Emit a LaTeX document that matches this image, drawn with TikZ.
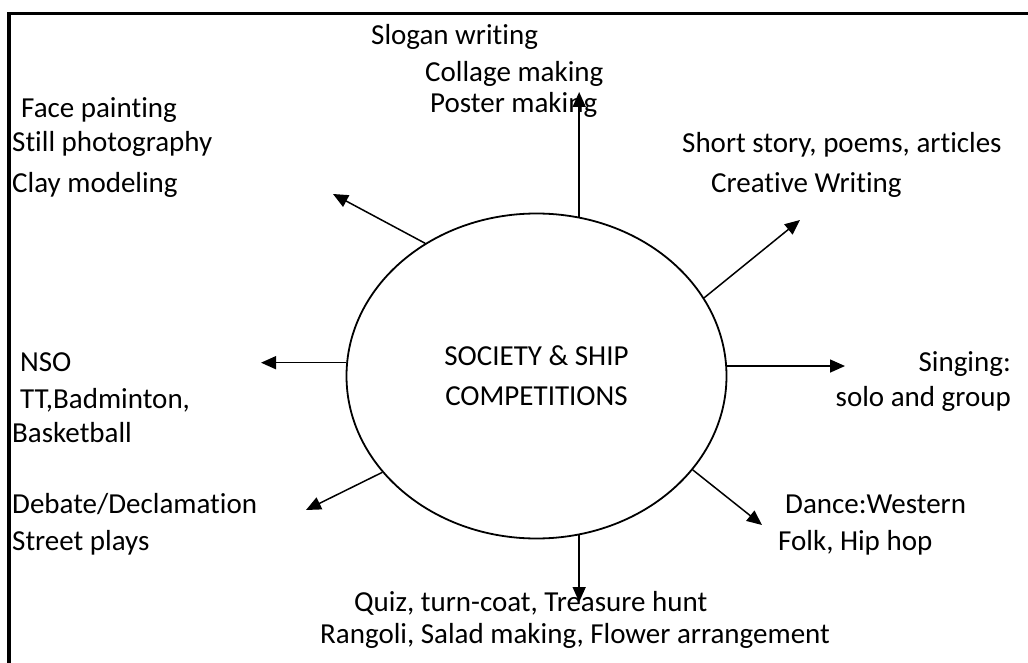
\documentclass[tikz,border=0pt]{standalone}
\usepackage{fontspec}
\setmainfont{Carlito}[Ligatures=NoCommon]
\usetikzlibrary{shapes.geometric,arrows.meta}
\tikzset{
  txt/.style={inner sep=0pt,font=\fontsize{29}{36}\selectfont},
  arr/.style={line width=1.5pt,-{Triangle[length=15pt,width=13pt]}}
}
\begin{document}
\begin{tikzpicture}[x=1pt,y=-1pt]
        \useasboundingbox (0,0) rectangle (1028,663);
        \draw[line width=3.5pt] (9,663) -- (9,13.5) -- (1028,13.5);
        % centre
        \node[ellipse,draw,line width=1.8pt,minimum width=380pt,minimum height=325pt,inner sep=0pt,
              align=center,font=\fontsize{29}{40}\selectfont] (soc) at (536.5,376)
              {SOCIETY \& SHIP\\COMPETITIONS};
        % end points of the arrows
        \coordinate (tup) at (579,92);
        \coordinate (tul) at (333,194);
        \coordinate (tur) at (800,220);
        \coordinate (tl) at (261,365);
        \coordinate (tr) at (845,365);
        \coordinate (tll) at (306,510);
        \coordinate (tlr) at (762,525);
        \coordinate (tdn) at (579,602);
        \draw[arr] (soc.75) -- (soc.75 |- tup);
        \draw[arr] (soc.130.5) -- (tul);
        \draw[arr] (soc.25.8) -- (tur);
        \draw[arr] (soc.176.7) -- (soc.176.7 -| tl);
        \draw[arr] (soc.3.3) -- (soc.3.3 -| tr);
        \draw[arr] (soc.212.1) -- (tll);
        \draw[arr] (soc.329.1) -- (tlr);
        \draw[arr] (soc.-75) -- (soc.-75 |- tdn);
        % labels
        \node[txt,anchor=base west] (slogan) at (371,45) {Slogan writing};
        \node[txt,anchor=base west] (collage) at (425,82) {Collage making};
        \node[txt,anchor=base west] (poster) at (430,113) {Poster making};
        \node[txt,anchor=base west] (face) at (21,118) {Face painting};
        \node[txt,anchor=base west] (still) at (12,152) {Still photography};
        \node[txt,anchor=base west] (clay) at (12,193) {Clay modeling};
        \node[txt,anchor=base west] (story) at (682,153) {Short story, poems, articles};
        \node[txt,anchor=base west] (creative) at (711,193) {Creative Writing};
        \node[txt,anchor=base west] (nso) at (20,371) {NSO};
        \node[txt,anchor=base west] (tt) at (20,408) {TT,Badminton,};
        \node[txt,anchor=base west] (basket) at (12,442) {Basketball};
        \node[txt,anchor=base east] (singing) at (1011,371) {Singing:};
        \node[txt,anchor=base east] (solo) at (1011,406) {solo and group};
        \node[txt,anchor=base west] (dance) at (785,513) {Dance:Western};
        \node[txt,anchor=base west] (folk) at (778,550) {Folk, Hip hop};
        \node[txt,anchor=base west] (debate) at (12,513) {Debate/Declamation};
        \node[txt,anchor=base west] (street) at (12,550) {Street plays};
        \node[txt,anchor=base west] (quiz) at (354,611) {Quiz, turn-coat, Treasure hunt};
        \node[txt,anchor=base west] (rangoli) at (320,643) {Rangoli, Salad making, Flower arrangement};
\end{tikzpicture}
\end{document}
